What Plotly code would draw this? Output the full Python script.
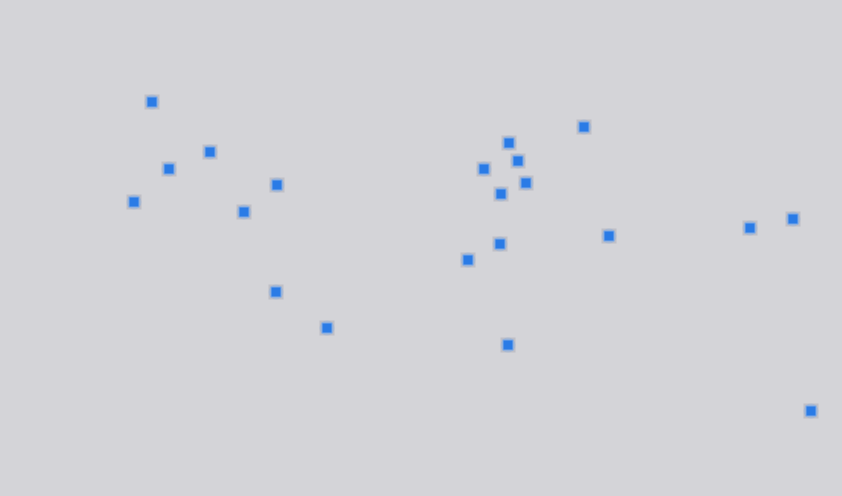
import plotly.graph_objects as go

x_vals = [152, 210, 169, 134, 277, 244, 276, 327, 584, 509, 518, 484, 526, 501, 500, 468, 609, 508, 750, 793, 811]
y_vals = [102, 152, 169, 202, 185, 212, 292, 328, 127, 143, 161, 169, 183, 194, 244, 260, 236, 345, 228, 219, 411]

fig = go.Figure()
# faint gray halo
fig.add_trace(go.Scatter(x=x_vals, y=y_vals, mode="markers", hoverinfo="skip",
                         marker=dict(symbol="square", size=15, color="rgba(120,120,135,0.22)", line=dict(width=0))))
# soft blue glow
fig.add_trace(go.Scatter(x=x_vals, y=y_vals, mode="markers", hoverinfo="skip",
                         marker=dict(symbol="circle", size=15, color="rgba(90,165,255,0.22)", line=dict(width=0))))
fig.add_trace(go.Scatter(x=x_vals, y=y_vals, mode="markers", hoverinfo="skip",
                         marker=dict(symbol="square", size=11, color="rgba(70,150,255,0.45)", line=dict(width=0))))
# core
fig.add_trace(go.Scatter(x=x_vals, y=y_vals, mode="markers",
                         marker=dict(symbol="square", size=9, color="#2a7be6", line=dict(width=0))))

fig.update_layout(
    width=842, height=496, margin=dict(l=0, r=0, t=0, b=0),
    paper_bgcolor="#d4d4d8", plot_bgcolor="#d4d4d8", showlegend=False,
    xaxis=dict(range=[0, 842], visible=False, fixedrange=True),
    yaxis=dict(range=[496, 0], visible=False, fixedrange=True),
)
fig.write_html("out.html")
